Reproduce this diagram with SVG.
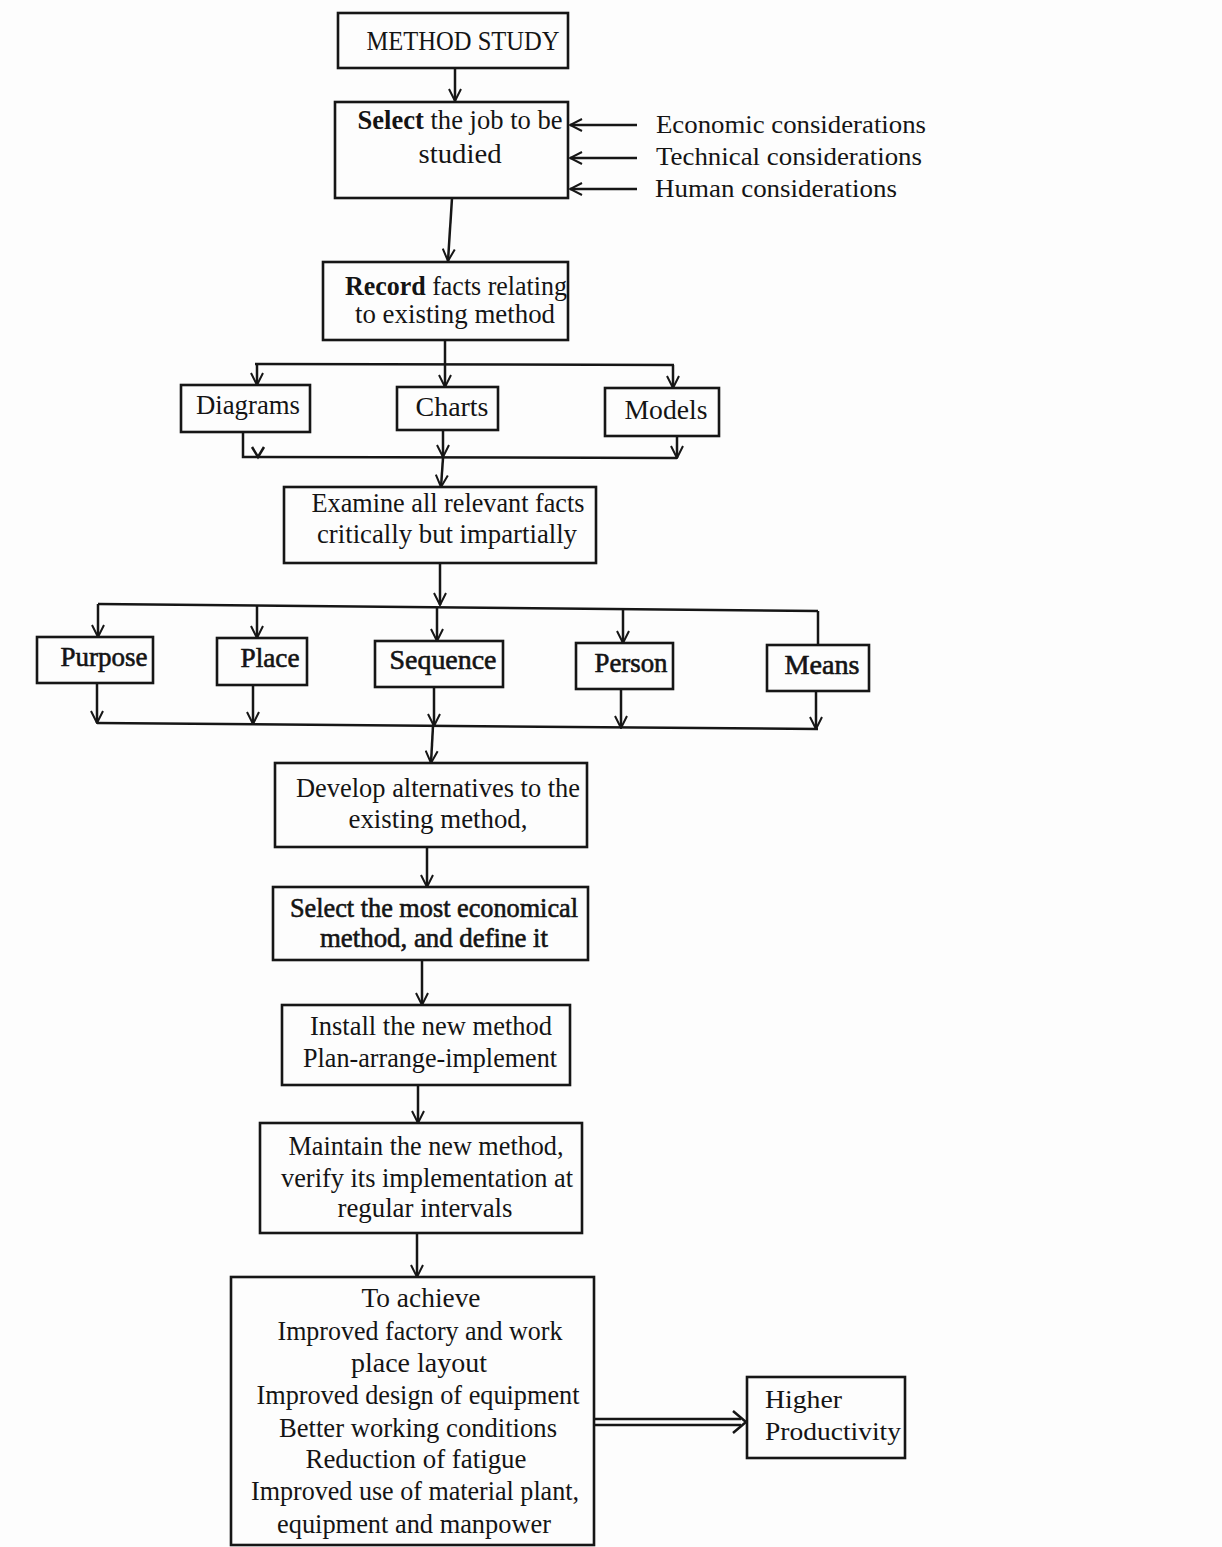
<svg xmlns="http://www.w3.org/2000/svg" width="1222" height="1547" viewBox="0 0 1222 1547">
<defs>
<marker id="ah" viewBox="0 0 14 14" refX="13" refY="7" markerWidth="14" markerHeight="14" markerUnits="userSpaceOnUse" orient="auto">
<path d="M1,1 L13,7 L1,13" fill="none" stroke="#161616" stroke-width="2"/>
</marker>
</defs>
<style>
.bx{fill:none;stroke:#161616;stroke-width:2.6}
.t{font-family:"Liberation Serif","Times New Roman",serif;font-size:27px;fill:#141414;text-anchor:middle}
.tl{font-family:"Liberation Serif","Times New Roman",serif;font-size:26px;fill:#141414}
.hv{stroke:#141414;stroke-width:0.6}
.c{fill:none;stroke:#161616;stroke-width:2.5}
.ca{fill:none;stroke:#161616;stroke-width:2.5;marker-end:url(#ah)}
</style>
<rect x="0" y="0" width="1222" height="1547" fill="#fdfdfd"/>

<g id="connectors">
<line class="ca" x1="455" y1="68" x2="455" y2="101"/>
<line class="ca" x1="637" y1="125" x2="570" y2="125"/>
<line class="ca" x1="637" y1="158" x2="570" y2="158"/>
<line class="ca" x1="637" y1="189" x2="570" y2="189"/>
<line class="ca" x1="452" y1="198" x2="448" y2="261"/>
<line class="c" x1="445" y1="340" x2="445" y2="364"/>
<line class="c" x1="255" y1="364" x2="674" y2="365"/>
<line class="ca" x1="257" y1="364" x2="257" y2="385"/>
<line class="ca" x1="445" y1="364" x2="445" y2="387"/>
<line class="ca" x1="673" y1="365" x2="673" y2="388"/>
<polyline class="c" points="243,432 243,457 677,458"/>
<polyline class="c" points="252,447 258,457 264,447"/>
<line class="ca" x1="443" y1="430" x2="443" y2="457"/>
<line class="ca" x1="677" y1="436" x2="677" y2="458"/>
<line class="ca" x1="443" y1="458" x2="441" y2="487"/>
<line class="ca" x1="440" y1="563" x2="440" y2="605"/>
<line class="c" x1="98" y1="604" x2="818" y2="611"/>
<line class="ca" x1="98" y1="604" x2="98" y2="637"/>
<line class="ca" x1="257" y1="606" x2="257" y2="638"/>
<line class="ca" x1="437" y1="607" x2="437" y2="641"/>
<line class="ca" x1="623" y1="609" x2="623" y2="643"/>
<line class="c" x1="818" y1="611" x2="818" y2="645"/>
<line class="ca" x1="97" y1="683" x2="97" y2="723"/>
<line class="ca" x1="253" y1="685" x2="253" y2="724"/>
<line class="ca" x1="434" y1="687" x2="434" y2="726"/>
<line class="ca" x1="621" y1="689" x2="621" y2="728"/>
<line class="ca" x1="816" y1="691" x2="816" y2="729"/>
<line class="c" x1="97" y1="723" x2="818" y2="729"/>
<line class="ca" x1="433" y1="726" x2="431" y2="763"/>
<line class="ca" x1="427" y1="847" x2="427" y2="887"/>
<line class="ca" x1="422" y1="960" x2="422" y2="1005"/>
<line class="ca" x1="418" y1="1085" x2="418" y2="1123"/>
<line class="ca" x1="417" y1="1233" x2="417" y2="1277"/>
<line class="c" x1="594" y1="1419" x2="741" y2="1419"/>
<line class="c" x1="594" y1="1425" x2="741" y2="1425"/>
<polyline class="c" points="733,1411 746,1422 733,1433"/>
</g>

<g id="method-study">
<rect class="bx" x="338" y="13" width="230" height="55"/>
<text class="t" x="463" y="50" textLength="193" lengthAdjust="spacingAndGlyphs">METHOD STUDY</text>
</g>

<g id="select-job">
<rect class="bx" x="335" y="102" width="233" height="96"/>
<text class="t" x="460" y="129" textLength="205" lengthAdjust="spacingAndGlyphs"><tspan font-weight="bold">Select</tspan> the job to be</text>
<text class="t" x="460" y="163" textLength="83" lengthAdjust="spacingAndGlyphs">studied</text>
</g>

<g id="considerations">
<text class="tl" x="656" y="133" textLength="270" lengthAdjust="spacingAndGlyphs">Economic considerations</text>
<text class="tl" x="656" y="165" textLength="266" lengthAdjust="spacingAndGlyphs">Technical considerations</text>
<text class="tl" x="655" y="197" textLength="242" lengthAdjust="spacingAndGlyphs">Human considerations</text>
</g>

<g id="record">
<rect class="bx" x="323" y="262" width="245" height="78"/>
<text class="t" x="456" y="295" textLength="222" lengthAdjust="spacingAndGlyphs"><tspan font-weight="bold">Record</tspan> facts relating</text>
<text class="t" x="455" y="323" textLength="200" lengthAdjust="spacingAndGlyphs">to existing method</text>
</g>

<g id="diagrams">
<rect class="bx" x="181" y="385" width="129" height="47"/>
<text class="t" x="248" y="414" textLength="104" lengthAdjust="spacingAndGlyphs">Diagrams</text>
</g>
<g id="charts">
<rect class="bx" x="397" y="387" width="101" height="43"/>
<text class="t" x="452" y="416" textLength="73" lengthAdjust="spacingAndGlyphs">Charts</text>
</g>
<g id="models">
<rect class="bx" x="605" y="388" width="114" height="48"/>
<text class="t" x="666" y="419" textLength="83" lengthAdjust="spacingAndGlyphs">Models</text>
</g>

<g id="examine">
<rect class="bx" x="284" y="487" width="312" height="76"/>
<text class="t" x="448" y="512" textLength="273" lengthAdjust="spacingAndGlyphs">Examine all relevant facts</text>
<text class="t" x="447" y="543" textLength="260" lengthAdjust="spacingAndGlyphs">critically but impartially</text>
</g>

<g id="purpose">
<rect class="bx" x="37" y="637" width="116" height="46"/>
<text class="t hv" x="104" y="666" textLength="87" lengthAdjust="spacingAndGlyphs">Purpose</text>
</g>
<g id="place">
<rect class="bx" x="217" y="638" width="90" height="47"/>
<text class="t hv" x="270" y="667" textLength="59" lengthAdjust="spacingAndGlyphs">Place</text>
</g>
<g id="sequence">
<rect class="bx" x="375" y="641" width="128" height="46"/>
<text class="t hv" x="443" y="669" textLength="107" lengthAdjust="spacingAndGlyphs">Sequence</text>
</g>
<g id="person">
<rect class="bx" x="576" y="643" width="97" height="46"/>
<text class="t hv" x="631" y="672" textLength="73" lengthAdjust="spacingAndGlyphs">Person</text>
</g>
<g id="means">
<rect class="bx" x="767" y="645" width="102" height="46"/>
<text class="t hv" x="822" y="674" textLength="75" lengthAdjust="spacingAndGlyphs">Means</text>
</g>

<g id="develop">
<rect class="bx" x="275" y="763" width="312" height="84"/>
<text class="t" x="438" y="797" textLength="284" lengthAdjust="spacingAndGlyphs">Develop alternatives to the</text>
<text class="t" x="438" y="828" textLength="179" lengthAdjust="spacingAndGlyphs">existing method,</text>
</g>

<g id="select-economical">
<rect class="bx" x="273" y="887" width="315" height="73"/>
<text class="t hv" x="434" y="917" textLength="288" lengthAdjust="spacingAndGlyphs">Select the most economical</text>
<text class="t hv" x="434" y="947" textLength="228" lengthAdjust="spacingAndGlyphs">method, and define it</text>
</g>

<g id="install">
<rect class="bx" x="282" y="1005" width="288" height="80"/>
<text class="t" x="431" y="1035" textLength="242" lengthAdjust="spacingAndGlyphs">Install the new method</text>
<text class="t" x="430" y="1067" textLength="254" lengthAdjust="spacingAndGlyphs">Plan-arrange-implement</text>
</g>

<g id="maintain">
<rect class="bx" x="260" y="1123" width="322" height="110"/>
<text class="t" x="426" y="1155" textLength="275" lengthAdjust="spacingAndGlyphs">Maintain the new method,</text>
<text class="t" x="427" y="1187" textLength="292" lengthAdjust="spacingAndGlyphs">verify its implementation at</text>
<text class="t" x="425" y="1217" textLength="175" lengthAdjust="spacingAndGlyphs">regular intervals</text>
</g>

<g id="achieve">
<rect class="bx" x="231" y="1277" width="363" height="268"/>
<text class="t" x="421" y="1307" textLength="119" lengthAdjust="spacingAndGlyphs">To achieve</text>
<text class="t" x="420" y="1340" textLength="285" lengthAdjust="spacingAndGlyphs">Improved factory and work</text>
<text class="t" x="419" y="1372" textLength="136" lengthAdjust="spacingAndGlyphs">place layout</text>
<text class="t" x="418" y="1404" textLength="323" lengthAdjust="spacingAndGlyphs">Improved design of equipment</text>
<text class="t" x="418" y="1437" textLength="278" lengthAdjust="spacingAndGlyphs">Better working conditions</text>
<text class="t" x="416" y="1468" textLength="221" lengthAdjust="spacingAndGlyphs">Reduction of fatigue</text>
<text class="t" x="415" y="1500" textLength="328" lengthAdjust="spacingAndGlyphs">Improved use of material plant,</text>
<text class="t" x="414" y="1533" textLength="274" lengthAdjust="spacingAndGlyphs">equipment and manpower</text>
</g>

<g id="higher-productivity">
<rect class="bx" x="747" y="1377" width="158" height="81"/>
<text class="tl" x="765" y="1408" font-size="27" textLength="77" lengthAdjust="spacingAndGlyphs">Higher</text>
<text class="tl" x="765" y="1440" font-size="27" textLength="136" lengthAdjust="spacingAndGlyphs">Productivity</text>
</g>
</svg>
